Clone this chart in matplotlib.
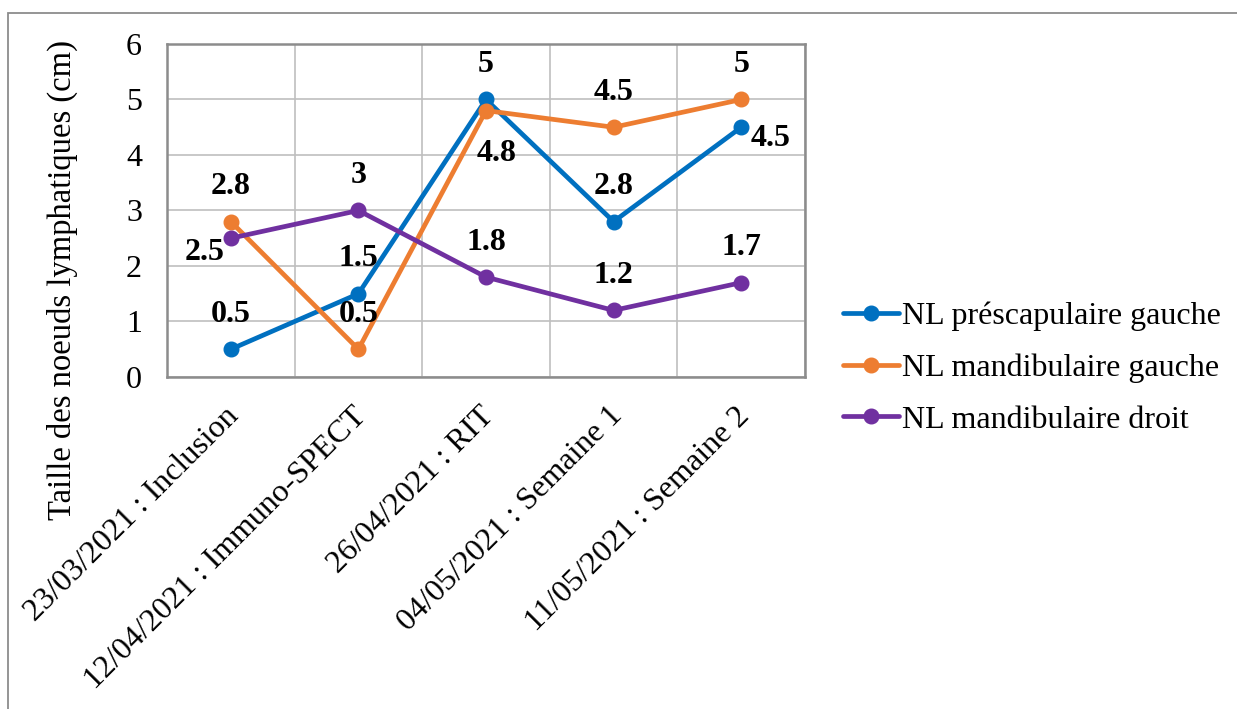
import matplotlib
matplotlib.use("Agg")
import matplotlib.pyplot as plt
from matplotlib.patches import Rectangle
from matplotlib.transforms import ScaledTranslation

categories = ["23/03/2021 : Inclusion", "12/04/2021 : Immuno-SPECT", "26/04/2021 : RIT",
              "04/05/2021 : Semaine 1", "11/05/2021 : Semaine 2"]
prescap_gauche = [0.5, 1.5, 5, 2.8, 4.5]
mandib_gauche = [2.8, 0.5, 4.8, 4.5, 5]
mandib_droit = [2.5, 3, 1.8, 1.2, 1.7]
series_names = ["NL préscapulaire gauche", "NL mandibulaire gauche", "NL mandibulaire droit"]
y_label = "Taille des noeuds lymphatiques (cm)"

colors = ["#0070C0", "#ED7D31", "#7030A0"]
# label placement per point (style)
placements = [
    ["above", "above", "above", "above", "right"],
    ["above", "above", "below", "above", "above"],
    ["left", "above", "above", "above", "above"],
]
offsets = {"above": (0, 35, "center", "center"),
           "below": (11, -43, "center", "center"),
           "left": (-6, -14, "right", "center"),
           "right": (9, -11, "left", "center")}

plt.rcParams['font.family'] = ['Liberation Serif', 'DejaVu Serif']

W, H = 1237, 709
fig = plt.figure(figsize=(W / 100, H / 100), dpi=100)
ax = fig.add_axes([167 / W, 1 - 377 / H, (805 - 167) / W, (377 - 44) / H])

# outer chart border (top & left visible)
fig.patches.append(Rectangle((8 / W, -0.1), 1.2, 1 - 12.5 / H + 0.1, transform=fig.transFigure,
                             fill=False, edgecolor="#8c8c8c", linewidth=1.3, zorder=0))

x = list(range(len(categories)))
all_series = [prescap_gauche, mandib_gauche, mandib_droit]
for vals, name, col, plc in zip(all_series, series_names, colors, placements):
    ax.plot(x, vals, color=col, linewidth=3.4, marker="o", markersize=10.5, label=name,
            solid_capstyle="round", zorder=3, clip_on=False)
    for xi, v, p in zip(x, vals, plc):
        dx, dy, ha, va = offsets[p]
        ax.annotate(f"{v:g}", (xi, v), xytext=(dx, dy), textcoords="offset pixels",
                    ha=ha, va=va, fontsize=23, fontweight="bold", color="black", zorder=4)

ax.set_xlim(-0.5, len(categories) - 0.5)
ax.set_ylim(0, 6)
ax.set_yticks(range(0, 7))
ax.set_xticks(x)
ax.set_xticks([i + 0.5 for i in range(-1, len(categories))], minor=True)
ax.grid(False)
ax.yaxis.grid(True, color="#bfbfbf", linewidth=1.2, zorder=0)
ax.xaxis.grid(True, which="minor", color="#bfbfbf", linewidth=1.2, zorder=0)
ax.set_axisbelow(True)
for s in ax.spines.values():
    s.set_color("#8c8c8c")
    s.set_linewidth(1.8)
ax.tick_params(axis="both", which="both", length=0)
ax.tick_params(axis="y", labelsize=23, pad=18)
ax.tick_params(axis="x", labelsize=23, pad=25)
ax.set_xticklabels(categories, rotation=45, ha="right", va="center", rotation_mode="anchor")
for lab in ax.get_xticklabels():
    lab.set_transform(lab.get_transform() + ScaledTranslation(4 / 100, 0, fig.dpi_scale_trans))

fig.text(62 / W, 1 - 280 / H, y_label, rotation=90, ha="center", va="center", fontsize=23.5)

leg = ax.legend(loc="center left", bbox_to_anchor=(843 / W, 1 - 368 / H), bbox_transform=fig.transFigure,
                frameon=False, fontsize=23, handlelength=1.75, handletextpad=0.1, labelspacing=0.7,
                borderaxespad=0, borderpad=0)

fig.savefig("out.png", dpi=100)
